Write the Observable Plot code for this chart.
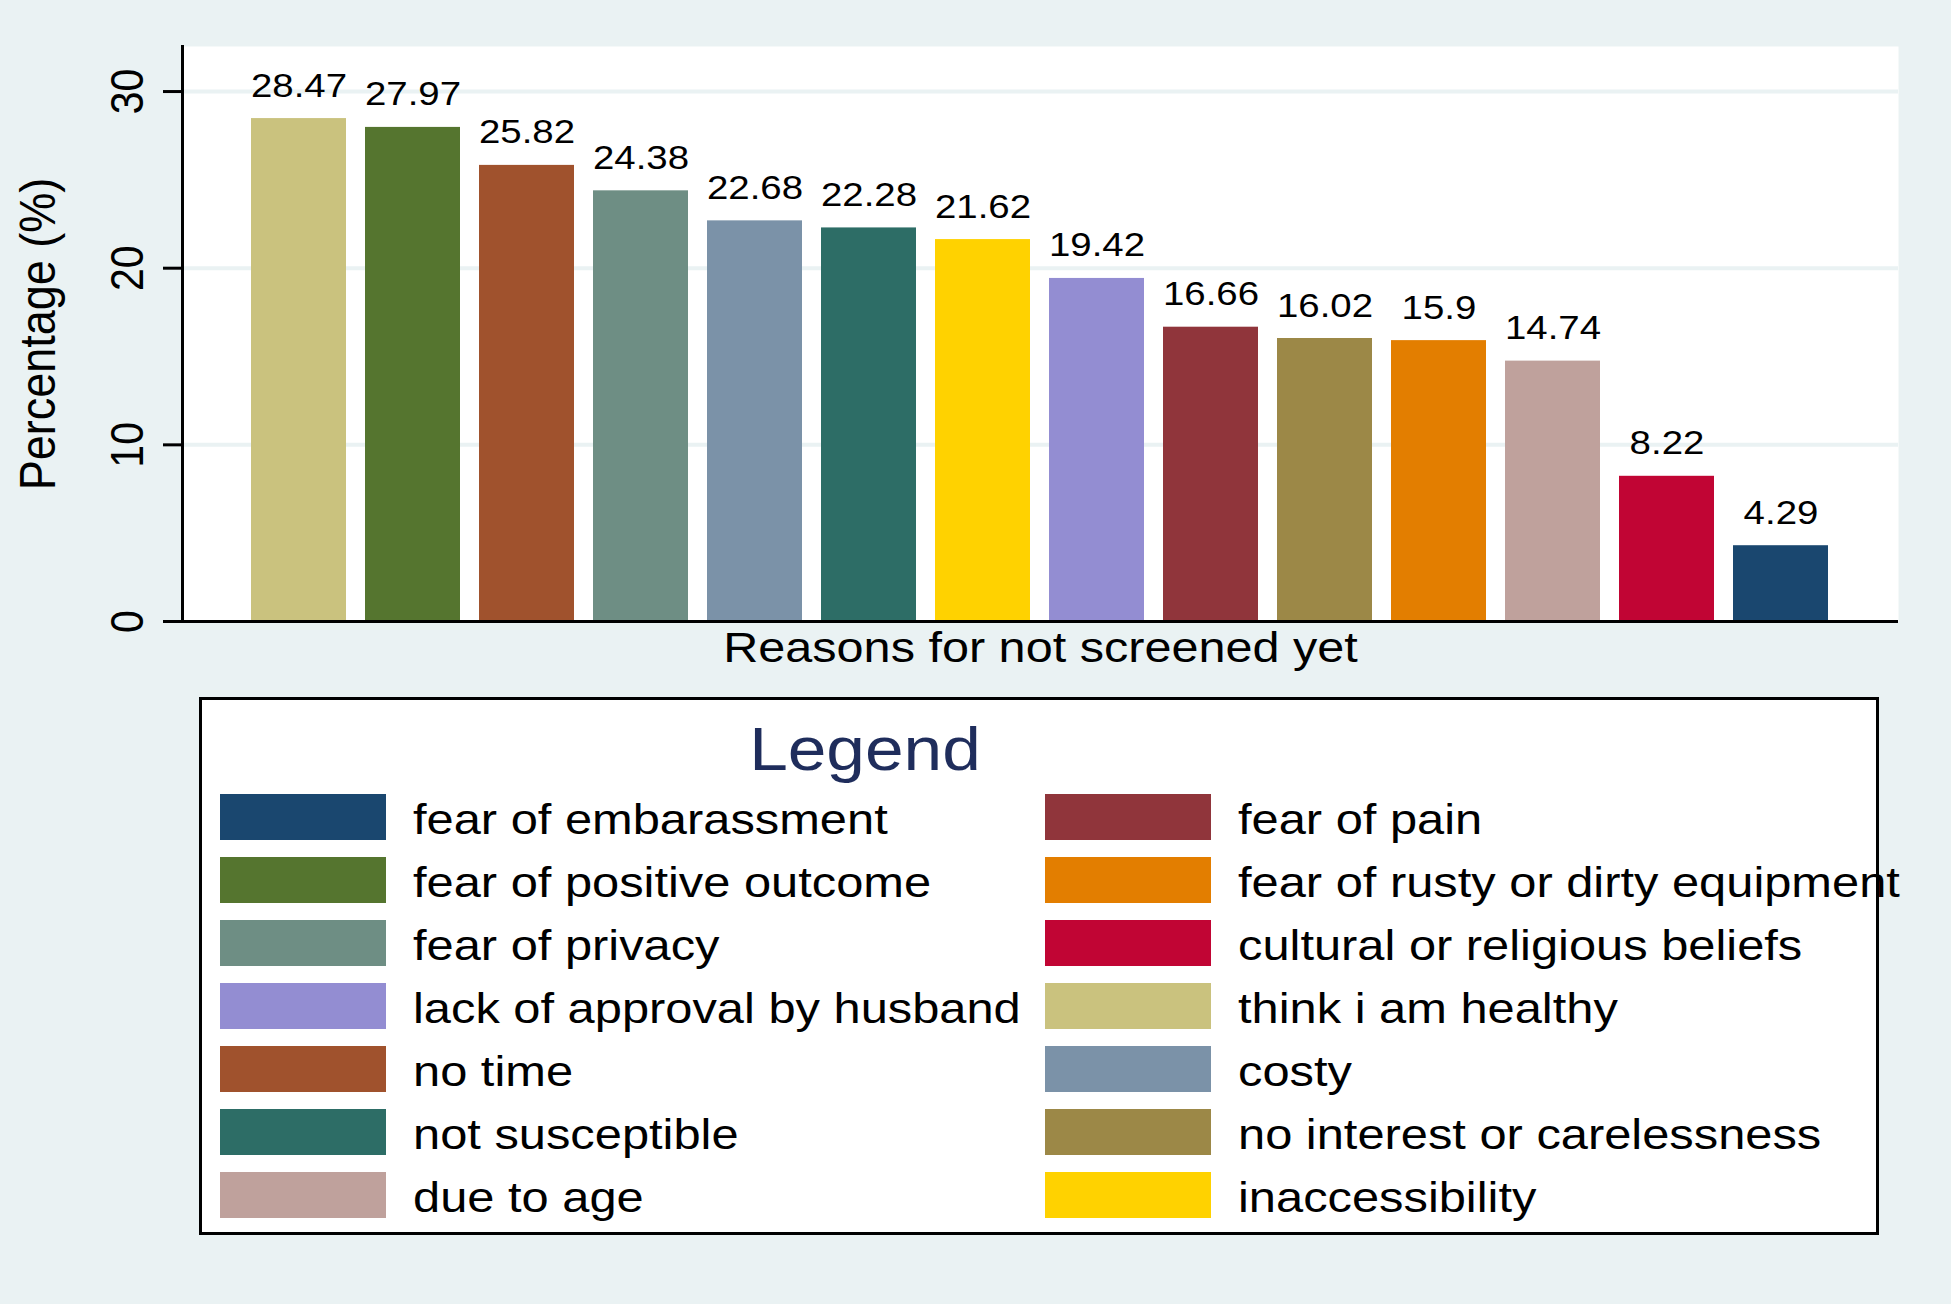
<!DOCTYPE html>
<html>
<head>
<meta charset="utf-8">
<script src="https://cdn.jsdelivr.net/npm/d3@7"></script>
<script src="https://cdn.jsdelivr.net/npm/@observablehq/plot@0.6"></script>
<style>
  html, body { margin: 0; padding: 0; background: #eaf2f3; }
  body { width: 1951px; height: 1304px; position: relative; overflow: hidden;
         font-family: "Liberation Sans", Arial, Helvetica, sans-serif; }
  #chart { position: absolute; left: 0; top: 0; }
  #legend { position: absolute; left: 199px; top: 697px; width: 1674px; height: 532px;
            background: #fff; border: 3px solid #000; }
  .legtitle { position: absolute; left: 0; width: 1326px; top: 14px; text-align: center;
              font-size: 62px; color: #1f2d5c; line-height: 70px;
              transform: scaleX(1.12); transform-origin: 663px 0; }
  .sw { position: absolute; width: 166px; height: 46px; }
  .lab { position: absolute; font-size: 43px; color: #000;
         line-height: 46px; white-space: nowrap;
         transform: scaleX(1.135); transform-origin: 0 0; }
</style>
</head>
<body>
<div id="chart"></div>
<div id="legend"></div>
<script>
// ---- data ----
const reasons = [
  "think i am healthy", "fear of positive outcome", "no time", "fear of privacy",
  "costy", "not susceptible", "inaccessibility", "lack of approval by husband",
  "fear of pain", "no interest or carelessness", "fear of rusty or dirty equipment",
  "due to age", "cultural or religious beliefs", "fear of embarassment"
];
const percents = [28.47, 27.97, 25.82, 24.38, 22.68, 22.28, 21.62, 19.42, 16.66, 16.02, 15.9, 14.74, 8.22, 4.29];
const barColors = [
  "#cac27e", "#55752f", "#a0522d", "#6e8e84", "#7b92a8", "#2d6d66", "#ffd200",
  "#938dd2", "#90353b", "#9c8847", "#e37e00", "#bfa19c", "#c10534", "#1a476f"
];
const yTicks = [0, 10, 20, 30];
const yTitle = "Percentage (%)";
const xTitle = "Reasons for not screened yet";
const legendTitle = "Legend";
const legendCol1 = ["fear of embarassment", "fear of positive outcome", "fear of privacy",
  "lack of approval by husband", "no time", "not susceptible", "due to age"];
const legendCol2 = ["fear of pain", "fear of rusty or dirty equipment", "cultural or religious beliefs",
  "think i am healthy", "costy", "no interest or carelessness", "inaccessibility"];

// ---- table built from arrays ----
const data = reasons.map((r, i) => ({reason: r, pct: percents[i], color: barColors[i]}));
const colorOf = Object.fromEntries(reasons.map((r, i) => [r, barColors[i]]));

const font = '"Liberation Sans", Arial, Helvetica, sans-serif';

const chart = Plot.plot({
  width: 1951,
  height: 697,
  marginTop: 46,
  marginBottom: 76,
  marginLeft: 182,
  marginRight: 53,
  style: {background: "transparent", fontFamily: font, color: "#000", overflow: "visible"},
  x: {domain: reasons, range: [250, 1829.5], paddingInner: 0.168, paddingOuter: 0, axis: null},
  y: {domain: [0, 32.55], axis: null},
  color: {type: "identity"},
  marks: [
    Plot.frame({fill: "#fff", stroke: null}),
    Plot.gridY(yTicks.filter(d => d > 0), {stroke: "#eaf2f3", strokeOpacity: 1, strokeWidth: 4}),
    Plot.barY(data, {x: "reason", y: "pct", fill: "color"}),
    Plot.text(data, {x: "reason", y: "pct", text: d => String(d.pct), dy: -22, lineAnchor: "bottom",
      fontSize: 34, fill: "#000"}),
    Plot.frame({anchor: "left", stroke: "#000", strokeWidth: 3}),
    Plot.ruleY([0], {stroke: "#000", strokeWidth: 3}),
    Plot.axisY({ticks: yTicks, tickSize: 19, tickPadding: 21, tickRotate: -90, fontSize: 41,
      stroke: "#000", strokeWidth: 3, label: null, fill: "#000"}),
    Plot.text([yTitle], {frameAnchor: "left", dx: -128, rotate: -90, textAnchor: "middle",
      lineAnchor: "bottom", fontSize: 45, fill: "#000", text: d => d}),
    Plot.text([xTitle], {frameAnchor: "bottom", dy: 40, lineAnchor: "bottom", textAnchor: "middle",
      fontSize: 43, fill: "#000", text: d => d})
  ]
});
document.getElementById("chart").appendChild(chart);

// reference glyphs are horizontally widened ~13%: widen each text about its anchor point
d3.select(chart).selectAll("text").each(function () {
  const el = this;
  let tr = el.getAttribute("transform");
  if (tr && /translate\([^)]*\)/.test(tr)) {
    tr = tr.replace(/(translate\([^)]*\))/, "$1 scale(1.13,1)");
  } else {
    const x = +(el.getAttribute("x") || 0), y = +(el.getAttribute("y") || 0);
    el.removeAttribute("x"); el.removeAttribute("y");
    tr = `translate(${x},${y}) scale(1.13,1)` + (tr ? " " + tr : "");
  }
  el.setAttribute("transform", tr);
});

// ---- legend (HTML, built from the same arrays) ----
const leg = document.getElementById("legend");
const t = document.createElement("div");
t.className = "legtitle";
t.textContent = legendTitle;
leg.appendChild(t);
const cols = [
  {items: legendCol1, swX: 18, labX: 211},
  {items: legendCol2, swX: 843, labX: 1036}
];
cols.forEach(col => {
  col.items.forEach((name, i) => {
    const top = 94 + i * 63;
    const sw = document.createElement("div");
    sw.className = "sw";
    sw.style.left = col.swX + "px";
    sw.style.top = top + "px";
    sw.style.background = colorOf[name];
    leg.appendChild(sw);
    const lb = document.createElement("div");
    lb.className = "lab";
    lb.style.left = col.labX + "px";
    lb.style.top = (top + 2) + "px";
    lb.textContent = name;
    leg.appendChild(lb);
  });
});
</script>
</body>
</html>
